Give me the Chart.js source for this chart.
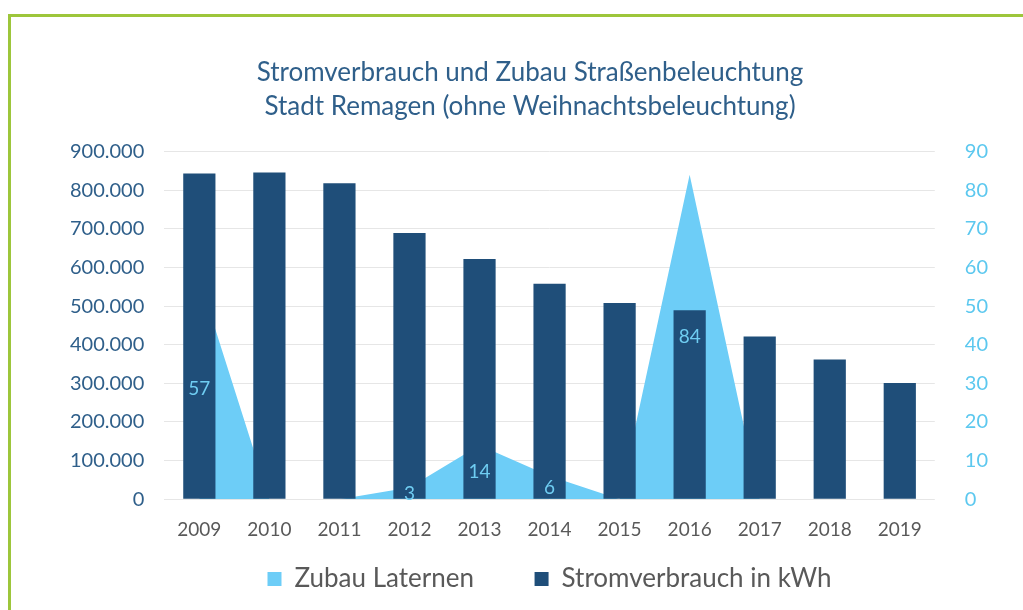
<!DOCTYPE html>
<html>
<head>
<meta charset="utf-8">
<script src="https://cdn.jsdelivr.net/npm/chart.js@4.4.1/dist/chart.umd.min.js"></script>
<style>
  html, body { margin: 0; padding: 0; background: #fff; overflow: hidden; }
  #rahmen {
    position: absolute; left: 8px; top: 14px; right: 0; bottom: 0;
    border-top: 3px solid #9dc63b; border-left: 3px solid #9dc63b;
  }
  #ChartDiv { position: absolute; left: 0; top: 0; width: 1023px; height: 610px; }
</style>
</head>
<body>
<div id="rahmen"></div>
<div id="ChartDiv"><canvas id="SimulChart" width="1023" height="610"></canvas></div>
<script>
/* Daten */
const jahre = ['2009','2010','2011','2012','2013','2014','2015','2016','2017','2018','2019']
const stromverbrauch = [843000, 846000, 818000, 689000, 622000, 558000, 508000, 489000, 421000, 362000, 301000]
const zubau = [57, 0, 0, 3, 14, 6, 0, 84, 0, 0, 0]

const schrift = 'Lato, "Open Sans", sans-serif'

/*Formatiert Zahlen mit Punkt als Tausendertrenner*/
function punktFormat(v) {
    return String(v).replace(/\B(?=(\d{3})+(?!\d))/g, '.')
}

/*Schreibt die Werte der Flaeche mittig in die Hoehe, Nullen werden weggelassen*/
const zubauLabels = {
    id: 'zubauLabels',
    afterDatasetsDraw(chart) {
        const ctx = chart.ctx
        const meta = chart.getDatasetMeta(1)
        const yr = chart.scales.y2
        ctx.save()
        ctx.fillStyle = '#6fcdf2'
        ctx.font = '19px ' + schrift
        ctx.textAlign = 'center'
        ctx.textBaseline = 'middle'
        meta.data.forEach((pt, i) => {
            const v = zubau[i]
            if (v == 0) return
            const y = yr.getPixelForValue(v / 2)
            ctx.fillText(String(v), pt.x, y)
        })
        ctx.restore()
    }
}

/*Legende: mehr Abstand zwischen den Eintraegen ueber angehaengte Leerzeichen*/
function legendLabels(chart) {
    const items = Chart.defaults.plugins.legend.labels.generateLabels(chart)
    items.forEach((it) => {
        if (it.text == 'Zubau Laternen') it.text = it.text + '       '
    })
    return items
}

const ctx = document.getElementById('SimulChart').getContext('2d')
const SimulChart = new Chart(ctx, {
    data: {
        labels: jahre,
        datasets: [{
            type: 'bar',
            label: 'Stromverbrauch in kWh',
            data: stromverbrauch,
            backgroundColor: '#1f4e79',
            yAxisID: 'y',
            order: 1,
            barPercentage: 0.46,
            categoryPercentage: 1
        }, {
            type: 'line',
            label: 'Zubau Laternen',
            data: zubau,
            backgroundColor: '#6dcdf7',
            borderColor: '#6dcdf7',
            borderWidth: 0,
            pointRadius: 0,
            fill: 'origin',
            tension: 0,
            yAxisID: 'y2',
            order: 2
        }]
    },
    plugins: [zubauLabels],
    options: {
        responsive: false,
        animation: false,
        devicePixelRatio: 1,
        layout: { padding: { left: 50, right: 13, top: 56, bottom: 8 } },
        plugins: {
            title: {
                display: true,
                text: ['Stromverbrauch und Zubau Straßenbeleuchtung', 'Stadt Remagen (ohne Weihnachtsbeleuchtung)'],
                color: '#2f5f8a',
                font: { family: schrift, size: 26, weight: 'normal', lineHeight: 1.3 },
                padding: { top: 0, bottom: 28 }
            },
            legend: {
                position: 'bottom',
                fullSize: false,
                reverse: true,
                labels: {
                    color: '#595959',
                    font: { family: schrift, size: 26 },
                    boxWidth: 14,
                    boxHeight: 14,
                    padding: 14,
                    generateLabels: legendLabels
                }
            },
            tooltip: { enabled: false }
        },
        scales: {
            x: {
                grid: { display: false },
                border: { display: false },
                ticks: { color: '#595959', font: { family: schrift, size: 19 }, padding: 11 }
            },
            y: {
                position: 'left',
                min: 0,
                max: 900000,
                grid: { color: '#e6e6e6', drawTicks: false },
                border: { display: false },
                ticks: {
                    stepSize: 100000,
                    color: '#2f5f8a',
                    font: { family: schrift, size: 20 },
                    padding: 20,
                    callback: (v) => punktFormat(v)
                }
            },
            y2: {
                position: 'right',
                min: 0,
                max: 90,
                grid: { display: false },
                border: { display: false },
                ticks: {
                    stepSize: 10,
                    color: '#5cc8ef',
                    font: { family: schrift, size: 20 },
                    padding: 22
                }
            }
        }
    }
})
</script>
</body>
</html>
